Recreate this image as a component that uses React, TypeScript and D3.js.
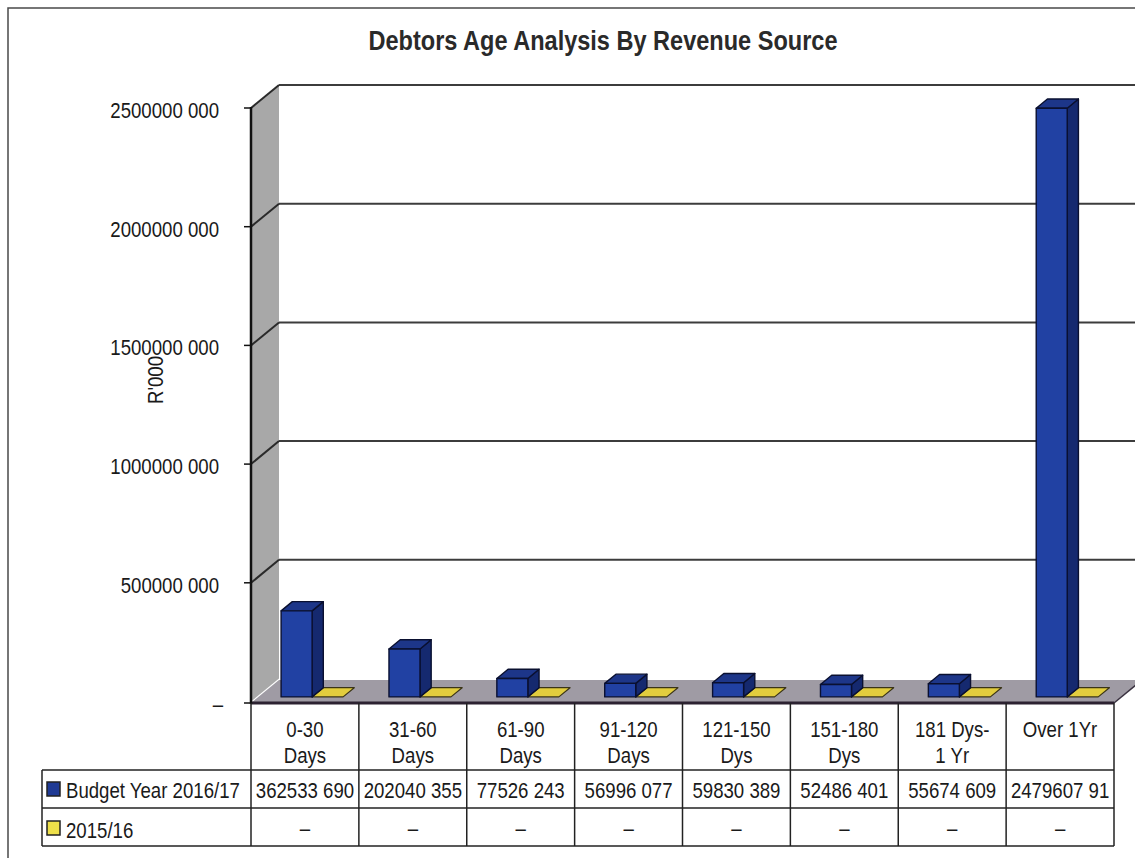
import React from "react";
import * as d3 from "d3";

// ---------- data ----------
const categoryLine1 = ["0-30", "31-60", "61-90", "91-120", "121-150", "151-180", "181 Dys-", "Over 1Yr"];
const categoryLine2 = ["Days", "Days", "Days", "Days", "Dys", "Dys", "1 Yr", ""];
const budgetValues = [362533690, 202040355, 77526243, 56996077, 59830389, 52486401, 55674609, 2479607910];
const budgetLabels = ["362533 690", "202040 355", "77526 243", "56996 077", "59830 389", "52486 401", "55674 609", "2479607 91"];
const priorValues = [0, 0, 0, 0, 0, 0, 0, 0];
const priorLabels = ["–", "–", "–", "–", "–", "–", "–", "–"];
const yTickValues = [0, 500000000, 1000000000, 1500000000, 2000000000, 2500000000];
const yTickLabels = ["–", "500000 000", "1000000 000", "1500000 000", "2000000 000", "2500000 000"];
const seriesNames = ["Budget Year 2016/17", "2015/16"];

const FONT = "'Liberation Sans', Arial, sans-serif";
const SX = 0.81;

function NText(props: any) {
  const { x, y, anchor = "start", size = 23, sx = SX, children, weight, fill = "#1a1a1a", rotate } = props;
  const tr = rotate
    ? `translate(${x},${y}) rotate(${rotate}) scale(${sx},1)`
    : `translate(${x},${y}) scale(${sx},1)`;
  return (
    <text transform={tr} textAnchor={anchor} fontSize={size} fontFamily={FONT} fontWeight={weight} fill={fill}>
      {children}
    </text>
  );
}

export default function App() {
  const W = 1135, H = 858;
  const x0 = 251, x1 = 1114;
  const DX = 28, DY = -23;
  const y = d3.scaleLinear().domain([0, 2500000000]).range([701.5, 108]);
  const band = d3.scaleBand<number>().domain(d3.range(8)).range([x0, x1]).paddingInner(0).paddingOuter(0);
  const bw = band.bandwidth();
  const barOffset = 24.5, barW = 31;
  const dA = 0.2, dB = 0.6;
  const P = (x: number, yy: number, d: number) => [x + DX * d, yy + DY * d];
  const pts = (arr: number[][]) => arr.map((p) => p.join(",")).join(" ");

  const blueFront = "#2141a3", blueSide = "#15296f", blueTop = "#1d3689", blueEdge = "#0a1030";
  const yelTop = "#e2cd3e", yelEdge = "#3a3418";

  const y0 = y(0);
  const floorFront = 703;

  const bars: any[] = [];
  d3.range(8).forEach((i) => {
    const bx = (band(i) as number) + barOffset;
    {
      const xl = bx + barW, xr = bx + 2 * barW;
      const top = y(priorValues[i]);
      const base = y0;
      const els: any[] = [];
      if (top < base - 0.5) {
        els.push(<polygon key="yf" points={pts([P(xl, top, dA), P(xr, top, dA), P(xr, base, dA), P(xl, base, dA)])} fill={yelTop} stroke={yelEdge} strokeWidth={1.2} />);
      }
      els.push(<polygon key="yt" points={pts([P(xl, top, dA), P(xr, top, dA), P(xr, top, dB), P(xl, top, dB)])} fill={yelTop} stroke={yelEdge} strokeWidth={1.2} strokeLinejoin="round" />);
      bars.push(<g key={"y" + i}>{els}</g>);
    }
    {
      const xl = bx, xr = bx + barW;
      const top = y(budgetValues[i]);
      const base = y0;
      bars.push(
        <g key={"b" + i} stroke={blueEdge} strokeWidth={1.4} strokeLinejoin="round">
          <polygon points={pts([P(xr, top, dA), P(xr, top, dB), P(xr, base, dB), P(xr, base, dA)])} fill={blueSide} />
          <polygon points={pts([P(xl, top, dA), P(xr, top, dA), P(xr, top, dB), P(xl, top, dB)])} fill={blueTop} />
          <polygon points={pts([P(xl, top, dA), P(xr, top, dA), P(xr, base, dA), P(xl, base, dA)])} fill={blueFront} />
        </g>
      );
    }
  });

  const topV = 2500000000;
  const tableTop = 770, rowMid = 808, tableBottom = 846, legendLeft = 42;
  const boundaries = d3.range(9).map((i) => x0 + i * bw);

  return (
    <svg width={W} height={H} viewBox={`0 0 ${W} ${H}`} style={{ position: "absolute", left: 0, top: 0, background: "#fff" }}>
      <rect x={0} y={0} width={W} height={H} fill="#fff" />
      <path d={`M8,${H} L8,8 L${W},8`} fill="none" stroke="#4a4a4a" strokeWidth={1.5} />

      <text x={603} y={50} textAnchor="middle" fontSize={27} fontFamily={FONT} fontWeight="bold" fill="#2a2a2a"
        textLength={469} lengthAdjust="spacingAndGlyphs">
        Debtors Age Analysis By Revenue Source
      </text>

      <polygon points={pts([P(x0, y(topV), 0), P(x0, y(topV), 1), P(x0, y0, 1), P(x0, y0, 0)])} fill="#a8a8a8" />
      <polygon points={pts([[x0, floorFront], [x1, floorFront], P(x1, floorFront, 1), P(x0, floorFront, 1)])} fill="#9f9ba4" />
      <line x1={x0} x2={x1} y1={floorFront} y2={floorFront} stroke="#2c2231" strokeWidth={3} />
      <line x1={x1} y1={floorFront} x2={x1 + DX} y2={floorFront + DY} stroke="#3a3240" strokeWidth={1.5} />

      {yTickValues.slice(1).map((v, i) => (
        <g key={"g" + i}>
          <line x1={x0 + DX} x2={W} y1={y(v) + DY} y2={y(v) + DY} stroke="#3c3c3c" strokeWidth={2} />
          <line x1={x0} y1={y(v)} x2={x0 + DX} y2={y(v) + DY} stroke="#2a2a2a" strokeWidth={2} />
        </g>
      ))}

      {bars}

      <line x1={x0} x2={x0} y1={y(topV) - 1} y2={floorFront + 1} stroke="#111" strokeWidth={2.5} />
      {yTickValues.map((v, i) => (
        <g key={"t" + i}>
          <line x1={244} x2={x0} y1={i === 0 ? floorFront : y(v)} y2={i === 0 ? floorFront : y(v)} stroke="#111" strokeWidth={1.5} />
          {i === 0 ? (
            <NText x={218} y={y(v) + 10} anchor="middle">{yTickLabels[i]}</NText>
          ) : (
            <NText x={219} y={y(v) + 10} anchor="end">{yTickLabels[i]}</NText>
          )}
        </g>
      ))}
      <NText x={163} y={380} anchor="middle" size={23} rotate={-90}>R'000</NText>

      <g stroke="#222" strokeWidth={1.5} fill="none">
        {boundaries.map((bx, i) => (
          <line key={"vb" + i} x1={bx} x2={bx} y1={floorFront} y2={tableBottom} />
        ))}
        <line x1={legendLeft} x2={legendLeft} y1={tableTop} y2={tableBottom} />
        <line x1={legendLeft} x2={x1} y1={tableTop} y2={tableTop} />
        <line x1={legendLeft} x2={x1} y1={rowMid} y2={rowMid} />
        <line x1={legendLeft} x2={x1} y1={tableBottom} y2={tableBottom} />
      </g>
      {d3.range(8).map((i) => {
        const cx = (band(i) as number) + bw / 2;
        return (
          <g key={"c" + i}>
            <NText x={cx} y={737} anchor="middle">{categoryLine1[i]}</NText>
            {categoryLine2[i] && <NText x={cx} y={763} anchor="middle">{categoryLine2[i]}</NText>}
            <NText x={cx} y={798} anchor="middle">{budgetLabels[i]}</NText>
            <NText x={cx} y={836} anchor="middle">{priorLabels[i]}</NText>
          </g>
        );
      })}
      <rect x={47} y={782} width={13} height={14} fill="#1f3a94" stroke="#222" strokeWidth={1.5} />
      <NText x={66} y={798}>{seriesNames[0]}</NText>
      <rect x={47} y={821} width={13} height={14} fill="#eee04a" stroke="#222" strokeWidth={1.5} />
      <NText x={66} y={838}>{seriesNames[1]}</NText>
    </svg>
  );
}
